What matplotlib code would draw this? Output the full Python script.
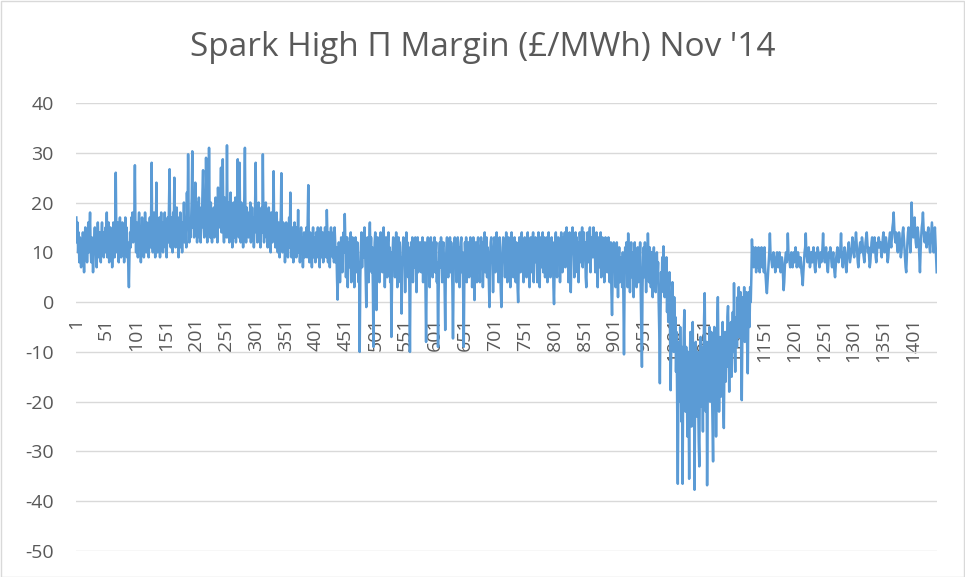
"""Spark High Π margin, half-hourly, November 2014 (line chart in the Excel style)."""

import matplotlib.pyplot as plt
from matplotlib.patches import Rectangle
from matplotlib import transforms

TITLE = "Spark High \u03a0 Margin (\u00a3/MWh) Nov '14"

# half-hourly values, one list per day (48 periods)
d01 = [17, 12, 16, 10, 14, 8, 13, 11, 7, 12, 9, 14, 10, 6, 11, 15, 9, 13, 8, 12, 16, 10, 14, 18, 11, 8, 13, 10, 6, 9, 12, 15, 10, 13, 7, 11, 16, 12, 9, 14, 10, 8, 13, 16, 11, 14, 9, 12]
d02 = [10, 15, 12, 18, 9, 13, 16, 8, 12, 15, 10, 14, 7, 11, 16, 12, 9, 14, 26, 13, 10, 16, 12, 8, 14, 17, 11, 9, 13, 16, 10, 14, 8, 12, 17, 11, 15, 9, 12, 7, 3, 10, 14, 11, 17, 13, 18, 12]
d03 = [13, 17, 27.5, 14, 10, 16, 12, 9, 15, 18, 11, 14, 8, 13, 17, 11, 15, 9, 12, 18, 14, 10, 16, 12, 15, 9, 13, 17, 11, 16, 28, 13, 10, 15, 18, 12, 9, 14, 24, 13, 10, 16, 12, 17, 9, 14, 18, 12]
d04 = [14, 10, 16, 12, 18, 11, 15, 9, 13, 17, 12, 19, 26.7, 14, 11, 17, 13, 10, 18, 14, 25, 15, 11, 16, 19, 12, 15, 9, 17, 13, 18, 11, 15, 10, 16, 13, 20, 12, 17, 14, 11, 22, 15, 29.7, 17, 12, 16, 13]
d05 = [16, 21, 30.3, 15, 19, 13, 17, 24, 14, 20, 12, 18, 15, 21, 13, 17, 12, 19, 15, 22, 26.5, 16, 13, 19, 14, 29, 17, 12, 21, 15, 31, 18, 13, 20, 15, 12, 17, 14, 19, 13, 16, 21, 14, 18, 12, 23, 16, 19]
d06 = [15, 20, 27, 14, 18, 28.7, 16, 12, 21, 15, 19, 13, 31.5, 16, 13, 20, 12, 17, 22, 14, 18, 11, 16, 20, 13, 17, 21, 12, 19, 15, 28.7, 17, 13, 28, 16, 12, 20, 14, 18, 11, 16, 21, 31, 15, 12, 19, 14, 17]
d07 = [13, 18, 15, 20, 12, 16, 19, 13, 17, 11, 15, 19, 28, 14, 17, 12, 16, 20, 13, 18, 11, 15, 19, 14, 29.7, 16, 12, 18, 14, 20, 13, 17, 11, 16, 19, 12, 15, 10, 18, 14, 12, 17, 26.3, 13, 16, 11, 15, 18]
d08 = [14, 10, 16, 12, 9, 15, 17, 25.9, 13, 10, 16, 11, 14, 8, 12, 16, 10, 15, 9, 13, 17, 11, 22, 14, 9, 15, 12, 8, 14, 16, 11, 13, 9, 15, 12, 18.5, 10, 14, 8, 12, 15, 10, 13, 7, 11, 14, 9, 13]
d09 = [11, 15, 9, 16, 23.5, 12, 8, 14, 10, 13, 7, 12, 15, 9, 13, 11, 8, 14, 12, 9, 15, 10, 13, 7, 12, 15, 9, 11, 14, 8, 13, 10, 15, 12, 9, 18.5, 13, 8, 14, 11, 7, 12, 15, 10, 13, 9, 14, 8]
d10 = [15, 12, 8, 11, 5, 0.5, 7, 12, 10, 4, 9, 13, 11, 6, 12, 14, 10, 17.7, 12, 5, 10, 13, 3, 9, 12, 7, 11, 14, 4, 10, 13, 8, 12, 3, 9, 13, 11, 6, 12, 10, 4, 8, -10, 5, 11, 14, 7, 12]
d11 = [13, 9, 15, 11, 5, -1, 8, 13, 10, 4, 12, 16, 9, 13, 6, 11, 3, -9, 7, 12, 14, 5, -1.6, 10, 13, 8, 12, 4, 11, 14, 9, 13, 6, 12, 15, 10, 3, 9, 13, 11, 5, 12, 14, 8, 11, 4, 10, -7]
d12 = [4, 10, 13, 8, 12, 5, 11, 14, 9, 3, 10, 13, 7, 12, 4, 9, -2.3, 6, 11, 13, 8, 12, 2, 10, 14, 9, 12, 5, 11, 3, -10, 6, 12, 9, 13, 4, 10, 12, 7, 13, 9, 2, 11, 13, 6, 12, 8, 11]
d13 = [12, 6, 10, 13, 4, 11, 8, 12, 3, -8, 5, 11, 13, 7, 12, 3, 10, 13, 8, 11, 5, 12, 9, 13, 6, 10, 12, 4, 8, -9, 2, 9, 12, 7, 13, 10, 4, 11, 12, 8, 3, -5.6, 6, 11, 13, 9, 5, 12]
d14 = [10, 13, 6, 12, 9, 3, -7.3, 5, 11, 13, 8, 12, 4, 10, 13, 7, 11, 3, 9, 12, 13, 6, 10, 2, -9, 5, 12, 9, 13, 4, 11, 8, 12, 5, 10, 13, 7, 12, 3, 9, 13, 6, 0.4, 8, 12, 10, 4, 11]
d15 = [13, 7, 11, 4, 10, 13, 9, 12, 3, 8, 12, 14, 6, 10, 13, 5, 11, 9, 4, -1, 7, 12, 13, 8, 11, 2, 9, 13, 10, 6, 12, 14, 8, 11, 4, 10, 13, 7, 2, -1, 6, 11, 13, 9, 12, 5, 10, 14]
d16 = [9, 4, 11, 13, 7, 12, 3, 10, 14, 8, 12, 5, 11, 13, 9, 4, 12, 10, 3, 0, 8, 13, 11, 6, 12, 14, 7, 10, 4, 11, 13, 9, 12, 5, 10, 14, 8, 12, 3, 9, 13, 11, 6, 12, 14, 4, 10, 12]
d17 = [13, 8, 12, 4, 10, 14, 9, 3, 11, 13, 7, 12, 14, 6, 10, 13, 5, 11, 9, 13, 4, 12, 14, 8, 11, 5, 10, 13, 9, 12, 3, -0.4, 7, 12, 14, 10, 5, 11, 13, 8, 12, 4, 10, 14, 9, 6, 12, 13]
d18 = [10, 14, 7, 12, 15, 9, 13, 4, 11, 14, 8, 2, 9, 13, 15, 10, 12, 5, 11, 14, 9, 13, 6, 12, 4, 10, 14, 12, 8, 13, 15, 7, 11, 14, 9, 12, 5, 3, 10, 14, 12, 8, 13, 15, 6, 11, 13, 9]
d19 = [12, 15, 9, 13, 6, 11, 14, 8, 3, 10, 13, 7, 12, 14, 5, 11, 13, 9, 12, 4, 10, 13, 8, 12, 6, 11, 13, 9, 4, 10, 12, 2, -2.6, 5, 10, 12, 7, 11, 3, 9, 12, 6, 1, 8, 11, 4, 9, 7]
d20 = [8, 3, 10, 1, -10.5, 4, 11, 6, 12, 9, 3, 13.8, 8, 11, 2, 9, 12, 5, 10, 7, 1, 9, 12, 6, 10, 3, 8, 11, 4, 10, 7, 12, 2, -5, -13, 3, 9, 11, 5, 12, 8, 2, 10, 6, 13.8, 9, 4, 11]
d21 = [9, 3, 10, 6, 1, 8, 11, 4, 9, 2, 7, 10, 5, 8, 0, -6, -16.3, -3, 6, 2, 9, 4, 11.2, 7, 1, 8, 3, 9, -2, 5, -4, 3, 6, -6, -17.7, -9, 0, 4, -5, -10, 1, -7, -3, -14, -6, -20, -36.5, -17]
d22 = [-8, -20, -5, -14, -24, -9, -36.5, -16, -6, -1.6, -12, -22, -9, -15, -27, -10, -19, -35.5, -13, -6, -17, -25, -11, -4, -20, -14, -37.7, -18, -8, -15, -23, -10, -19, -28, -33, -12, -7, -21, -9, -16, -26, -11, -3, 1.8, -13, -22, -8, -36.8]
d23 = [-18, -8, -14, -5, -20, -11, -6, -16, -24, -32, -12, -5, -18, -9, -27, -13, -4, 1, -10, -22, -15, -7, -19, -9, -14, -4, -20, -25.3, -11, -6, -16, -8, -13, -3, -0.8, -9, -18, -6, -12, -4, -15, -8, -2, -10, 3.8, -7, -14, -5]
d24 = [-3, -9, 1, -5, 3, -7, -2, 2, -10, -19.7, -6, 1, -4, 3, -8, 0, -3, 2, -9, -14.3, -2, 2, -5, 3, 0, 5, 12.6, 9, 11, 7, 10, 8, 11, 6, 9, 10, 7, 11, 9, 6, 10, 8, 11, 7, 9, 10, 6, 11]
d25 = [7, 5, 3, 1.8, 4, 6, 8, 10, 13.8, 10, 9, 8, 7, 9, 10, 9, 8, 6, 7, 9, 10, 8, 7, 9, 10, 8, 6, 7, 9, 8, 5, 2.4, 4, 7, 9, 10, 8, 9, 13.8, 10, 9, 8, 7, 9, 10, 8, 7, 9]
d26 = [10, 8, 9, 11, 9, 7, 8, 10, 9, 8, 7, 9, 8, 6, 5, 3.4, 6, 8, 10, 11, 13.8, 10, 9, 8, 10, 11, 9, 7, 8, 10, 9, 8, 10, 11, 9, 7, 6, 8, 10, 9, 11, 10, 8, 7, 9, 10, 8, 9]
d27 = [11, 13.8, 10, 9, 8, 10, 11, 9, 7, 6, 8, 10, 9, 11, 10, 8, 7, 9, 10, 8, 6, 5, 7, 9, 10, 11, 9, 8, 10, 9, 11, 13.8, 10, 8, 7, 9, 10, 11, 9, 7, 6, 8, 10, 11, 12, 10, 8, 9]
d28 = [10, 11, 13, 12, 10, 9, 11, 12, 14, 12, 10, 8, 7, 9, 11, 12, 10, 11, 13, 12, 10, 9, 8, 10, 12, 13, 14, 12, 10, 11, 9, 7, 8, 10, 12, 13, 11, 10, 12, 13, 11, 9, 8, 10, 12, 11, 13, 12]
d29 = [11, 12, 10, 9, 11, 13, 14, 12, 10, 11, 13, 12, 10, 8, 9, 11, 13, 14, 12, 11, 13, 15, 16, 18, 15, 13, 12, 14, 13, 11, 10, 12, 14, 13, 11, 9, 10, 12, 14, 15, 13, 11, 9, 7, 6, 9, 12, 14]
d30 = [15, 14, 12, 10, 13, 20, 16, 14, 13, 15, 17, 14, 12, 11, 13, 15, 14, 12, 9, 6, 10, 13, 15, 16, 18, 15, 13, 12, 14, 13, 11, 12, 14, 15, 13, 11, 10, 12, 14, 16, 14, 12, 10, 13, 15, 12, 9, 6]

margin = (d01 + d02 + d03 + d04 + d05 + d06 + d07 + d08 + d09 + d10
          + d11 + d12 + d13 + d14 + d15 + d16 + d17 + d18 + d19 + d20
          + d21 + d22 + d23 + d24 + d25 + d26 + d27 + d28 + d29 + d30)
periods = list(range(1, len(margin) + 1))

y_ticks = list(range(-50, 41, 10))
x_label_every = 50

TEXT = "#595959"
GRID = "#D9D9D9"
LINE = "#5B9BD5"
FONT = ["Open Sans", "DejaVu Sans"]


def main():
    plt.rcParams["font.family"] = FONT

    W, H = 965, 577
    fig = plt.figure(figsize=(W / 100, H / 100), dpi=100)
    fig.patches.append(Rectangle((0.5 / W, 0.5 / H), 1 - 1.5 / W, 1 - 1.5 / H,
                                 transform=fig.transFigure, fill=False,
                                 edgecolor=GRID, linewidth=1.0))

    left, right, top, bottom = 76, 937, 103, 551
    ax = fig.add_axes([left / W, 1 - bottom / H, (right - left) / W, (bottom - top) / H])

    ax.plot(periods, margin, color=LINE, linewidth=1.8, solid_joinstyle="round", zorder=3)

    ax.set_xlim(0.5, len(margin) + 0.5)
    ax.set_ylim(-50, 40)
    ax.set_yticks(y_ticks)
    ax.set_yticklabels([str(v) for v in y_ticks])
    ax.yaxis.grid(True, color=GRID, linewidth=1.0)
    ax.set_axisbelow(True)
    ax.tick_params(axis="y", length=0, pad=16, labelsize=14, labelcolor=TEXT)
    ax.set_xticks([])
    for s in ax.spines.values():
        s.set_visible(False)

    # category labels hang from the zero line, as in Excel
    below = transforms.offset_copy(ax.transData, fig=fig, x=0, y=-11, units="points")
    for p in periods[::x_label_every]:
        ax.text(p, 0, str(p), rotation=90, ha="center", va="top", fontsize=14,
                color=TEXT, transform=below, zorder=0.4)

    fig.text(0.5, 1 - 48 / H, TITLE, ha="center", va="center", fontsize=24, color=TEXT)

    fig.savefig("out.png", dpi=100)
    plt.close(fig)


if __name__ == "__main__":
    main()
